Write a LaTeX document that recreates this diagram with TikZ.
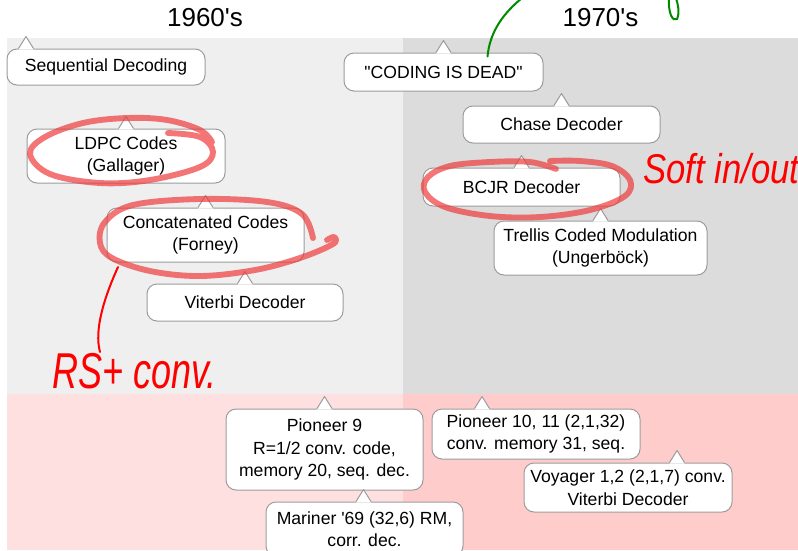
\documentclass[tikz,border=0pt]{standalone}
\usepackage{fontspec}
\setmainfont{Liberation Sans}
\usetikzlibrary{calc}

\definecolor{panelA}{HTML}{EFEFEF}
\definecolor{panelB}{HTML}{DCDCDC}
\definecolor{bandA}{HTML}{FFE0E0}
\definecolor{bandB}{HTML}{FFCCCC}
\definecolor{edge}{HTML}{9C9C9C}
\definecolor{marker}{HTML}{EE3B3B}
\definecolor{pen}{HTML}{FF0000}
\definecolor{greenpen}{HTML}{008A00}

\tikzset{
  callout/.style={draw=edge, line width=0.75pt, fill=white, rounded corners=7.5pt,
    align=center, inner sep=0pt, font=\fontsize{13.2}{16.9}\selectfont},
  sz/.style 2 args={minimum width=#1*0.75pt, minimum height=#2*0.75pt},
  era/.style={font=\fontsize{19.5}{23}\selectfont, inner sep=0pt},
  highlight/.style={draw=marker, draw opacity=0.7, line width=4.4pt,
    line cap=round, line join=round},
  ink/.style={draw=pen, line width=1.5pt, line cap=round},
  greenink/.style={draw=greenpen, line width=1.5pt, line cap=round},
  scribble/.style={text=pen, inner sep=0pt, font=\itshape\fontsize{27}{30}\selectfont},
}

% small pointer triangle sitting on top of a callout, #2 = offset from its centre (px)
\newcommand\calloutptr[2]{%
  \fill[white] ($(#1.north)+({#2-7.5},1)$) -- ($(#1.north)+(#2,-12)$)
    -- ($(#1.north)+({#2+7.5},1)$) -- cycle;
  \draw[edge, line width=0.75pt, line join=round] ($(#1.north)+({#2-7.5},0)$)
    -- ($(#1.north)+(#2,-12)$) -- ($(#1.north)+({#2+7.5},0)$);}

\begin{document}
\begin{tikzpicture}[x=0.75pt, y=-0.75pt]
  \useasboundingbox (0,0) rectangle (798,550);
  \fill[white] (0,0) rectangle (798,550);

  % decade panels and the missions band
  \fill[panelA] (7,38) rectangle (403,394);
  \fill[panelB] (403,38) rectangle (798,394);
  \fill[bandA] (7,394) rectangle (403,550);
  \fill[bandB] (403,394) rectangle (798,550);

  \node[era] (t60) at (205,18) {1960\textquotesingle s};
  \node[era] (t70) at (600.5,18) {1970\textquotesingle s};

  % events
  \node[callout, sz={198}{36}] (seq) at (106,67) {Sequential Decoding};
  \node[callout, sz={199}{38}] (dead) at (443.5,72) {\textquotedbl CODING IS DEAD\textquotedbl};
  \node[callout, sz={197}{37}] (chase) at (561.5,124.5) {Chase Decoder};
  \node[callout, sz={197}{38}] (bcjr) at (521.5,187) {BCJR Decoder};
  \node[callout, sz={213}{54}] (tcm) at (600.5,248) {Trellis Coded Modulation\\(Ungerböck)};
  \node[callout, sz={198}{54}] (ldpc) at (126,156) {LDPC Codes\\(Gallager)};
  \node[callout, sz={197}{54}] (concat) at (205.5,235) {Concatenated Codes\\(Forney)};
  \node[callout, sz={196}{37}] (viterbi) at (245,302.5) {Viterbi Decoder};
  \node[callout, sz={197}{81}] (pion9) at (324.5,449.5) {Pioneer 9\\R=1/2 conv. code,\\memory 20, seq. dec.};
  \node[callout, sz={197}{54}] (mariner) at (364.5,529) {Mariner \textquotesingle69 (32,6) RM,\\corr. dec.};
  \node[callout, sz={208}{50}] (pion10) at (536,434) {Pioneer 10, 11 (2,1,32)\\conv. memory 31, seq.};
  \node[callout, sz={208}{49}] (voyager) at (628,487.5) {Voyager 1,2 (2,1,7) conv.\\Viterbi Decoder};

  \calloutptr{seq}{-80}
  \calloutptr{dead}{0}
  \calloutptr{chase}{0}
  \calloutptr{bcjr}{0}
  \calloutptr{tcm}{0}
  \calloutptr{ldpc}{0}
  \calloutptr{concat}{0}
  \calloutptr{viterbi}{0}
  \calloutptr{pion9}{0}
  \calloutptr{mariner}{-1}
  \calloutptr{pion10}{-54}
  \calloutptr{voyager}{49}

  % marker loops
  \draw[highlight] plot[smooth, tension=0.6] coordinates {(168,133) (200,137) (213,152)
    (200,167) (150,180) (100,183) (50,174) (30,154) (45,137) (83,123) (127,118)
    (167,120) (200,130) (212,142)};
  \draw[highlight] plot[smooth, tension=0.6] coordinates {(313,238) (302,214) (267,202)
    (200,199) (133,205) (105,222) (100,243) (112,258) (150,271) (200,276) (255,270)
    (300,258) (333,244) (334,237) (327,240)};
  \draw[highlight] plot[smooth, tension=0.6] coordinates {(556,169) (530,162) (490,162)
    (450,166) (428,177) (425,192) (445,207) (490,216) (540,217) (590,210) (625,196)
    (630,180) (612,166) (580,161) (550,161)};

  % pen notes
  \coordinate (loopfoot) at (118,267);
  \coordinate (rstop) at (100,352);
  \begin{scope}[shift={(52,388)}]
    \node[scribble, anchor=base west, yscale=1.4] (rs) at (0,0) {RS+ conv.};
  \end{scope}
  \draw[ink] (loopfoot) .. controls (104,298) and (94,330) .. (rstop);

  \begin{scope}[shift={(643,183)}]
    \node[scribble, anchor=base west, yscale=1.2, font=\itshape\fontsize{26}{30}\selectfont] (soft) at (0,0) {Soft in/out};
  \end{scope}

  \coordinate (deadfoot) at ($(dead.north)+(44,4)$);
  \coordinate (topexit) at (522,-2);
  \draw[greenink] (deadfoot) .. controls (490,30) and (505,12) .. (topexit);
  \coordinate (loopA) at (669,-2);
  \coordinate (loopB) at (677,19);
  \coordinate (loopC) at (676,-2);
  \draw[greenink] (loopA) .. controls (668,14) and (673,22) .. (loopB)
    .. controls (680,12) and (678,5) .. (loopC);
\end{tikzpicture}
\end{document}
